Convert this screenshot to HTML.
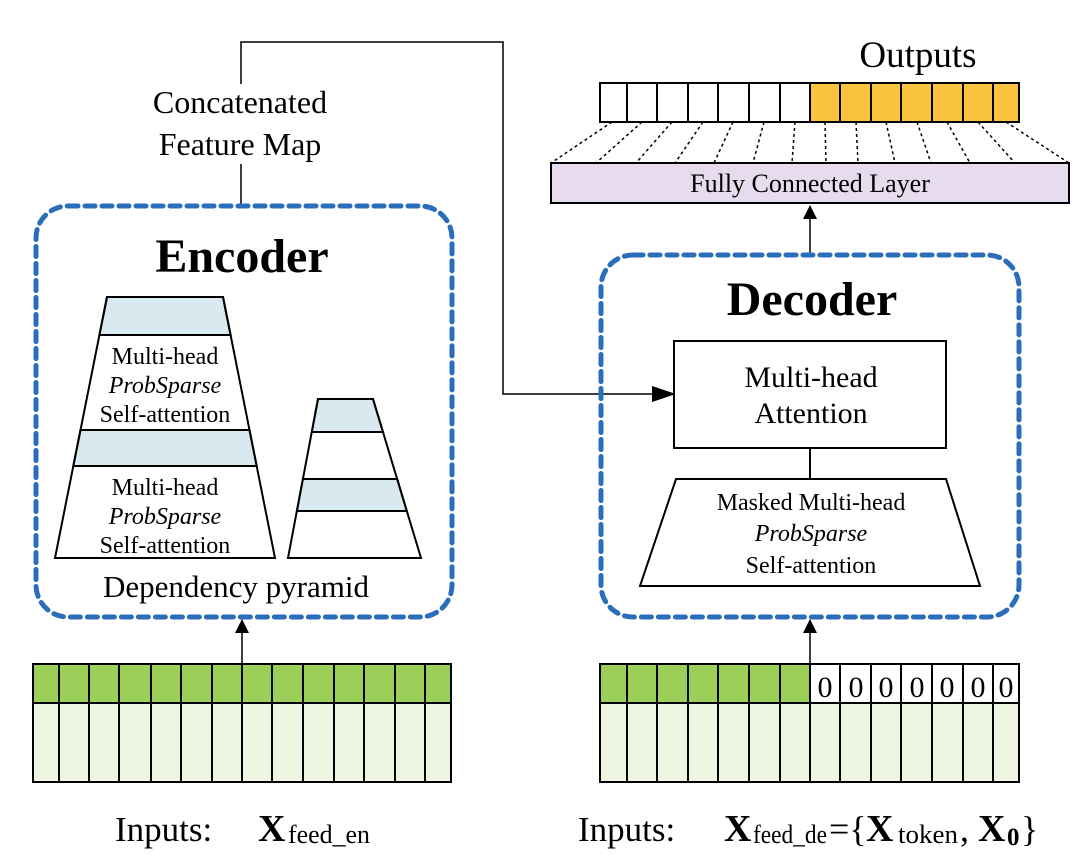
<!DOCTYPE html>
<html><head><meta charset="utf-8"><style>
html,body{margin:0;padding:0;background:#fff;width:1082px;height:859px;overflow:hidden}
svg{display:block}
text{font-family:"Liberation Serif",serif;fill:#000}
</style></head><body>
<svg width="1082" height="859" viewBox="0 0 1082 859" xmlns="http://www.w3.org/2000/svg">
<defs>
<marker id="ah3" markerWidth="14" markerHeight="16" refX="13" refY="7" orient="auto" markerUnits="userSpaceOnUse"><path d="M0,0 L14,7 L0,14 z" fill="#000"/></marker>
</defs>

<polyline points="241,84 241,42 503,42 503,394 652,394" fill="none" stroke="#000" stroke-width="1.5"/>
<path d="M652,386 L676,394 L652,402 z" fill="#000"/>
<line x1="241" y1="164" x2="241" y2="206" stroke="#000" stroke-width="1.5"/>
<text x="240" y="113" font-size="32" text-anchor="middle">Concatenated</text>
<text x="240" y="155" font-size="32" text-anchor="middle">Feature Map</text>

<rect x="36" y="206" width="416" height="411" rx="32" fill="none" stroke="#2a6ebb" stroke-width="5" stroke-dasharray="10,7" stroke-linecap="round"/>
<text x="242" y="272" font-size="48" font-weight="bold" text-anchor="middle">Encoder</text>

<polygon points="107,297 223,297 230.6,335 99.4,335" fill="#d8e9ef" stroke="#000" stroke-width="2"/>
<polygon points="80.5,430 249.5,430 256.7,466 73.3,466" fill="#d8e9ef" stroke="#000" stroke-width="2"/>
<polygon points="107,297 223,297 275,558 55,558" fill="none" stroke="#000" stroke-width="2"/>
<text x="165" y="364" font-size="24" text-anchor="middle">Multi-head</text>
<text x="165" y="393" font-size="24" text-anchor="middle" font-style="italic">ProbSparse</text>
<text x="165" y="422" font-size="24" text-anchor="middle">Self-attention</text>
<text x="165" y="495" font-size="24" text-anchor="middle">Multi-head</text>
<text x="165" y="524" font-size="24" text-anchor="middle" font-style="italic">ProbSparse</text>
<text x="165" y="553" font-size="24" text-anchor="middle">Self-attention</text>

<polygon points="318,399 373,399 383,432 311.8,432" fill="#d8e9ef" stroke="#000" stroke-width="2"/>
<polygon points="302.9,479 397.2,479 406.8,511 296.9,511" fill="#d8e9ef" stroke="#000" stroke-width="2"/>
<polygon points="318,399 373,399 421,558 288,558" fill="none" stroke="#000" stroke-width="2"/>
<text x="236" y="597" font-size="31" text-anchor="middle">Dependency pyramid</text>

<line x1="242" y1="664" x2="242" y2="620" stroke="#000" stroke-width="1.5" marker-end="url(#ah3)"/>
<g stroke="#000" stroke-width="2">
<rect x="33" y="664" width="418" height="39" fill="#9bcf5a"/>
<rect x="33" y="703" width="418" height="79" fill="#eef6e1"/>
<path d="M59,664V782M89,664V782M119,664V782M151,664V782M181,664V782M212,664V782M242,664V782M272,664V782M303,664V782M334,664V782M364,664V782M395,664V782M425,664V782"/>
</g>
<text x="115" y="841" font-size="35">Inputs:</text>
<text x="258" y="841" font-size="38" font-weight="bold">X</text>
<text x="288" y="843" font-size="26" textLength="82" lengthAdjust="spacingAndGlyphs">feed_en</text>

<text x="918" y="67" font-size="37" text-anchor="middle">Outputs</text>
<g stroke="#000" stroke-width="2">
<rect x="600" y="83" width="210" height="39" fill="#fff"/>
<rect x="810" y="83" width="209" height="39" fill="#f9c33e"/>
<path d="M627,83V122M657,83V122M688,83V122M718,83V122M749,83V122M780,83V122M840,83V122M871,83V122M901,83V122M932,83V122M963,83V122M993,83V122"/>
</g>
<g stroke="#000" stroke-width="1.5" stroke-dasharray="3,3">
<line x1="612" y1="122" x2="551" y2="163"/>
<line x1="642" y1="122" x2="596" y2="163"/>
<line x1="672" y1="122" x2="636" y2="163"/>
<line x1="703" y1="122" x2="675" y2="163"/>
<line x1="733" y1="122" x2="714" y2="163"/>
<line x1="764" y1="122" x2="753" y2="163"/>
<line x1="795" y1="122" x2="792" y2="163"/>
<line x1="825" y1="122" x2="826" y2="163"/>
<line x1="856" y1="122" x2="858" y2="163"/>
<line x1="886" y1="122" x2="895" y2="163"/>
<line x1="917" y1="122" x2="931" y2="163"/>
<line x1="947" y1="122" x2="970" y2="163"/>
<line x1="978" y1="122" x2="1015" y2="163"/>
<line x1="1006" y1="122" x2="1069" y2="163"/>
</g>
<rect x="551" y="163" width="518" height="40" fill="#e6dcee" stroke="#000" stroke-width="2"/>
<text x="810" y="192" font-size="26" text-anchor="middle">Fully Connected Layer</text>
<line x1="810" y1="255" x2="810" y2="206" stroke="#000" stroke-width="1.5" marker-end="url(#ah3)"/>

<rect x="601" y="255" width="418" height="362" rx="32" fill="none" stroke="#2a6ebb" stroke-width="5" stroke-dasharray="10,7" stroke-linecap="round"/>
<text x="812" y="315" font-size="48" font-weight="bold" text-anchor="middle">Decoder</text>
<rect x="674" y="341" width="272" height="107" fill="#fff" stroke="#000" stroke-width="2"/>
<text x="811" y="387" font-size="30" text-anchor="middle">Multi-head</text>
<text x="811" y="423" font-size="30" text-anchor="middle">Attention</text>
<line x1="810" y1="448" x2="810" y2="479" stroke="#000" stroke-width="2"/>
<polygon points="676,479 946,479 980,586 640,586" fill="#fff" stroke="#000" stroke-width="2"/>
<text x="811" y="510" font-size="24" text-anchor="middle">Masked Multi-head</text>
<text x="811" y="541" font-size="24" text-anchor="middle" font-style="italic">ProbSparse</text>
<text x="811" y="573" font-size="24" text-anchor="middle">Self-attention</text>

<line x1="810" y1="664" x2="810" y2="620" stroke="#000" stroke-width="1.5" marker-end="url(#ah3)"/>
<g stroke="#000" stroke-width="2">
<rect x="600" y="664" width="210" height="39" fill="#9bcf5a"/>
<rect x="810" y="664" width="209" height="39" fill="#fff"/>
<rect x="600" y="703" width="419" height="79" fill="#eef6e1"/>
<path d="M627,664V782M657,664V782M688,664V782M718,664V782M749,664V782M780,664V782M810,664V782M840,664V782M871,664V782M901,664V782M932,664V782M963,664V782M993,664V782"/>
</g>
<g font-size="30" text-anchor="middle">
<text x="825" y="697">0</text><text x="856" y="697">0</text><text x="886" y="697">0</text><text x="917" y="697">0</text><text x="947" y="697">0</text><text x="978" y="697">0</text><text x="1006" y="697">0</text>
</g>
<text x="578" y="841" font-size="35">Inputs:</text>
<text x="724" y="841" font-size="38" font-weight="bold">X</text>
<text x="753" y="843" font-size="26" textLength="74" lengthAdjust="spacingAndGlyphs">feed_de</text>
<text x="829" y="841" font-size="36">={</text>
<text x="866" y="841" font-size="38" font-weight="bold">X</text>
<text x="898" y="843" font-size="26" textLength="60" lengthAdjust="spacingAndGlyphs">token</text>
<text x="960" y="841" font-size="36">,</text>
<text x="978" y="841" font-size="38" font-weight="bold">X</text>
<text x="1007" y="845" font-size="25" font-weight="bold">0</text>
<text x="1021" y="841" font-size="36">}</text>
</svg>
</body></html>
